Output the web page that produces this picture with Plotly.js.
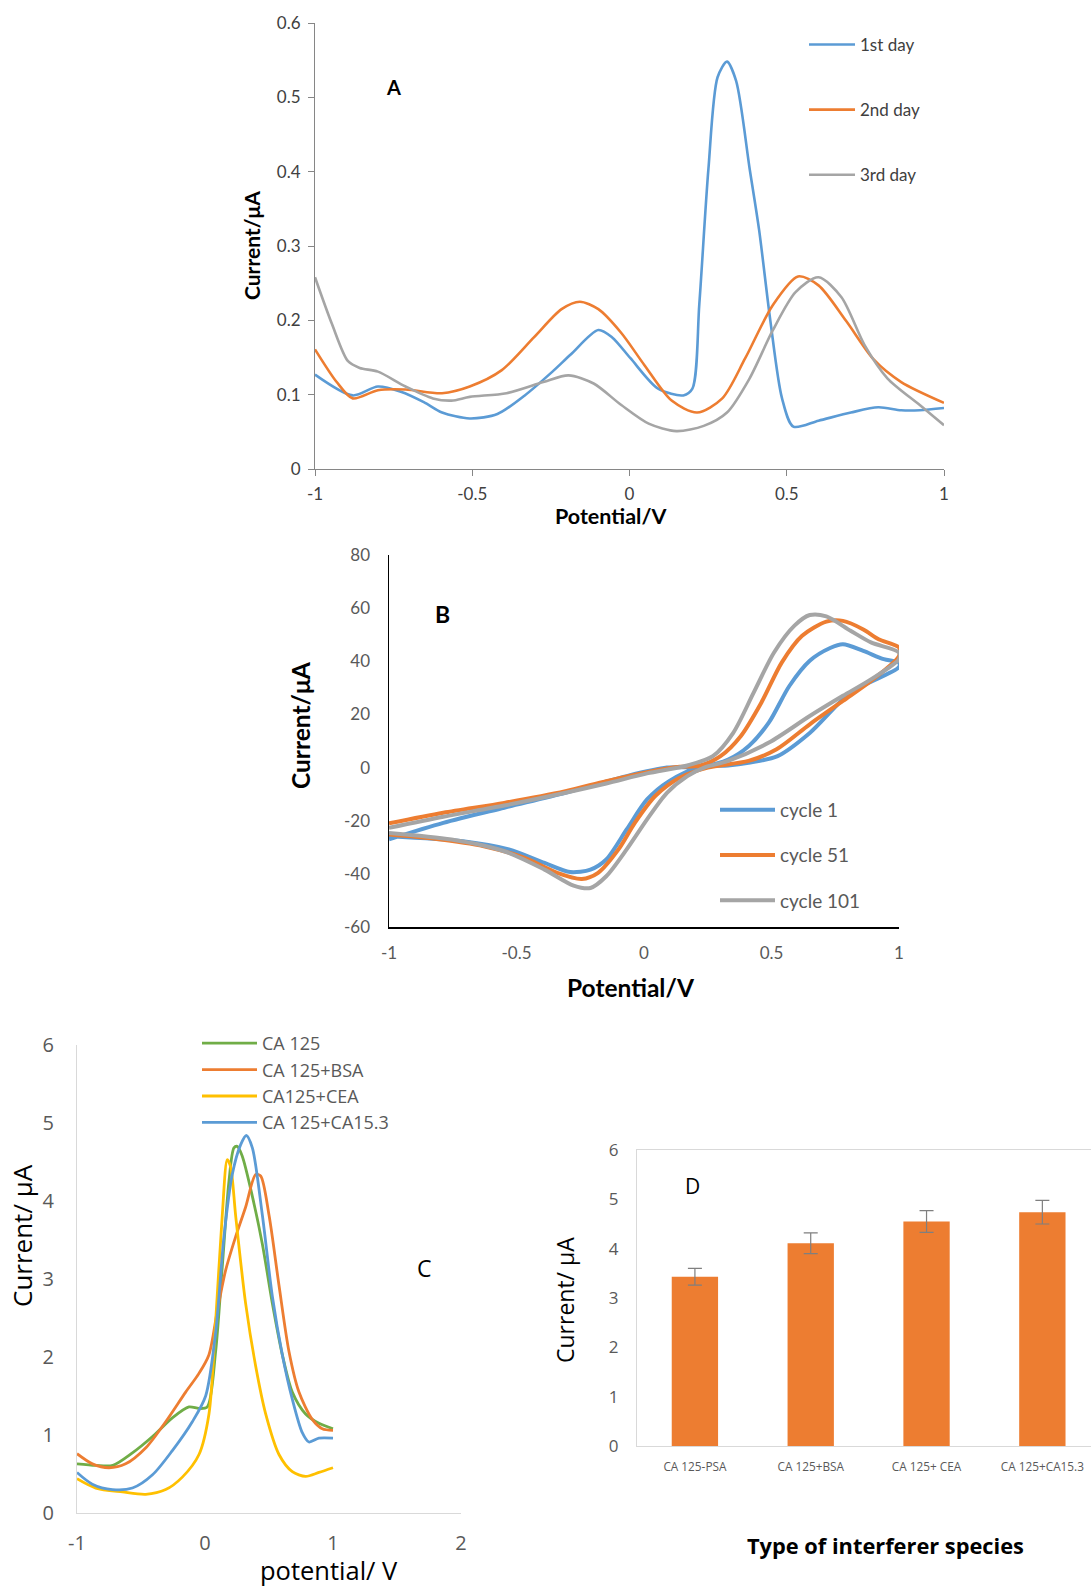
<!DOCTYPE html>
<html>
<head>
<meta charset="utf-8">
<script src="https://cdn.plot.ly/plotly-3.0.1.min.js"></script>
<style>
html,body{margin:0;padding:0;background:#fff;}
#chart{width:1091px;height:1589px;}
</style>
</head>
<body>
<div id="chart"></div>
<script>
// ---------- Panel A : DPV stability over days ----------
const seriesA = ["1st day", "2nd day", "3rd day"];
const potA1 = [-1,-0.88,-0.8,-0.727,-0.654,-0.596,-0.508,-0.42,-0.333,-0.245,-0.187,-0.099,-0.055,0.003,0.091,0.171,0.2,0.222,0.251,0.28,0.31,0.339,0.382,0.412,0.448,0.485,0.521,0.601,0.704,0.791,0.864,0.923,1.0];
const curA1 = [0.127,0.099,0.111,0.104,0.090,0.076,0.068,0.074,0.099,0.131,0.154,0.187,0.177,0.149,0.108,0.099,0.108,0.222,0.404,0.527,0.548,0.522,0.404,0.322,0.199,0.095,0.057,0.065,0.076,0.083,0.079,0.079,0.082];
const potA2 = [-1,-0.931,-0.88,-0.8,-0.712,-0.596,-0.508,-0.406,-0.304,-0.216,-0.158,-0.099,-0.026,0.047,0.134,0.215,0.295,0.368,0.455,0.536,0.601,0.689,0.777,0.864,1.0];
const curA2 = [0.161,0.117,0.095,0.106,0.107,0.102,0.111,0.133,0.177,0.215,0.225,0.215,0.183,0.140,0.092,0.076,0.095,0.149,0.220,0.259,0.247,0.199,0.147,0.117,0.089];
const potA3 = [-1,-0.946,-0.895,-0.858,-0.8,-0.712,-0.625,-0.566,-0.508,-0.391,-0.274,-0.194,-0.114,-0.026,0.061,0.149,0.236,0.31,0.382,0.455,0.528,0.601,0.674,0.747,0.82,0.923,1.0];
const curA3 = [0.258,0.195,0.145,0.136,0.131,0.111,0.095,0.092,0.097,0.102,0.117,0.126,0.115,0.086,0.061,0.051,0.058,0.076,0.122,0.186,0.238,0.258,0.231,0.167,0.122,0.086,0.059];
const xTickValsA = [-1,-0.5,0,0.5,1];
const xTickTextA = ["-1","-0.5","0","0.5","1"];
const yTickValsA = [0,0.1,0.2,0.3,0.4,0.5,0.6];
const yTickTextA = ["0","0.1","0.2","0.3","0.4","0.5","0.6"];

// ---------- Panel B : CV cycles (forward then reverse scan) ----------
const seriesB = ["cycle 1", "cycle 51", "cycle 101"];
const potB1 = [-1,-0.787,-0.548,-0.308,-0.068,0.09,0.22,0.33,0.41,0.49,0.57,0.65,0.73,0.78,0.86,0.94,1.0,
               1.0,0.81,0.65,0.524,0.41,0.33,0.22,0.1,0.012,-0.068,-0.148,-0.21,-0.29,-0.39,-0.53,-0.71,-1];
const curB1 = [-27,-20.8,-15.1,-9.5,-3.2,0,0.3,3,8,17,30.7,40.2,45,46.4,43.9,40.8,39.5,
               37.8,28.2,13,4.3,1.8,0.8,0.3,-5,-12,-23.3,-34.6,-38.4,-39.3,-35.9,-30.8,-27.7,-25.8];
const potB2 = [-1,-0.787,-0.548,-0.308,-0.148,0.012,0.14,0.22,0.3,0.38,0.46,0.54,0.62,0.715,0.78,0.86,0.92,1,
               1,0.89,0.78,0.65,0.52,0.41,0.25,0.14,0.044,-0.036,-0.1,-0.18,-0.244,-0.34,-0.468,-0.628,-0.82,-1];
const curB2 = [-21,-17,-13.3,-8.9,-5.1,-1.7,0.3,0.8,4.3,11.9,24.4,39.5,49.6,54.9,55.2,52,48.3,45.2,
               42,32.6,25.1,16.3,6.9,2.5,0,-3.8,-10.7,-20.8,-30.8,-39.6,-41.9,-39.6,-34,-29.6,-26.8,-25.2];
const potB3 = [-1,-0.787,-0.548,-0.308,-0.148,0.012,0.17,0.27,0.35,0.43,0.51,0.59,0.65,0.715,0.81,0.89,1,
               1,0.89,0.78,0.65,0.49,0.33,0.236,0.17,0.09,0.012,-0.068,-0.148,-0.21,-0.276,-0.39,-0.548,-0.755,-1];
const curB3 = [-22.7,-18.5,-14.3,-9.5,-6,-2.2,0.8,4.3,13.1,28.2,43.3,53.4,57.4,56.9,51.5,47.1,43.3,
               40.8,33.2,27,19.4,9.4,2.5,0,-3.2,-9.5,-19.5,-30.8,-40.9,-45.3,-44.4,-38.4,-31.5,-27.1,-24.6];
const xTickValsB = [-1,-0.5,0,0.5,1];
const xTickTextB = ["-1","-0.5","0","0.5","1"];
const yTickValsB = [-60,-40,-20,0,20,40,60,80];
const yTickTextB = ["-60","-40","-20","0","20","40","60","80"];

// ---------- Panel C : selectivity DPV ----------
const seriesC = ["CA 125", "CA 125+BSA", "CA125+CEA", "CA 125+CA15.3"];
const potC1 = [-1,-0.853,-0.72,-0.567,-0.41,-0.255,-0.125,-0.047,0.018,0.083,0.135,0.187,0.226,0.252,0.29,0.37,0.448,0.526,0.604,0.682,0.786,0.89,1.0];
const curC1 = [0.63,0.61,0.61,0.77,0.98,1.22,1.36,1.34,1.36,2.07,3.16,4.25,4.68,4.70,4.58,4.06,3.45,2.69,2.03,1.55,1.27,1.15,1.08];
const potC2 = [-1,-0.88,-0.75,-0.62,-0.46,-0.307,-0.151,-0.047,0.031,0.096,0.161,0.239,0.317,0.396,0.435,0.5,0.578,0.656,0.734,0.838,0.916,1.0];
const curC2 = [0.76,0.63,0.58,0.63,0.84,1.17,1.55,1.79,2.03,2.59,3.11,3.54,3.92,4.34,4.32,3.82,2.92,2.07,1.55,1.20,1.08,1.06];
const potC3 = [-1,-0.853,-0.645,-0.463,-0.307,-0.177,-0.047,0.031,0.083,0.135,0.174,0.2,0.239,0.317,0.396,0.474,0.578,0.682,0.786,0.89,1.0];
const curC3 = [0.44,0.32,0.27,0.24,0.30,0.46,0.75,1.27,2.45,3.82,4.53,4.44,3.82,2.69,1.88,1.27,0.75,0.53,0.47,0.52,0.58];
const potC4 = [-1,-0.88,-0.723,-0.567,-0.41,-0.255,-0.099,0.005,0.083,0.148,0.213,0.278,0.323,0.37,0.448,0.526,0.604,0.682,0.76,0.812,0.89,1.0];
const curC4 = [0.52,0.37,0.30,0.32,0.49,0.80,1.17,1.50,2.31,3.54,4.34,4.72,4.84,4.68,3.82,2.78,2.03,1.46,1.03,0.91,0.96,0.96];
const xTickValsC = [-1,0,1,2];
const xTickTextC = ["-1","0","1","2"];

// ---------- Panel D : bar chart ----------
const categoriesD = ["CA 125-PSA", "CA 125+BSA", "CA 125+ CEA", "CA 125+CA15.3"];
const categoryPosD = [0, 1, 2, 3];
const valuesD = [3.43, 4.11, 4.55, 4.74];
const errorsD = [0.17, 0.21, 0.22, 0.24];

// ---------- styling ----------
const BLUE = "#5B9BD5", ORANGE = "#ED7D31", GRAY = "#A5A5A5", YELLOW = "#FFC000", GREEN = "#70AD47";
const fontA = "Lato, 'Liberation Sans', sans-serif";
const fontC = "'Open Sans', 'Liberation Sans', sans-serif";

function line(x, y, name, color, w, xa, ya, leg, grp) {
  return {type: "scatter", mode: "lines", x: x, y: y, name: name, xaxis: xa, yaxis: ya,
          legend: leg, legendgroup: grp, line: {color: color, width: w, shape: "spline", smoothing: 0.8},
          hoverinfo: "skip"};
}

const traces = [
  line(potA1, curA1, seriesA[0], BLUE, 2.6, "x", "y", "legend", "a1"),
  line(potA2, curA2, seriesA[1], ORANGE, 2.6, "x", "y", "legend", "a2"),
  line(potA3, curA3, seriesA[2], GRAY, 2.6, "x", "y", "legend", "a3"),
  line(potB1, curB1, seriesB[0], BLUE, 4, "x2", "y2", "legend2", "b1"),
  line(potB2, curB2, seriesB[1], ORANGE, 4, "x2", "y2", "legend2", "b2"),
  line(potB3, curB3, seriesB[2], GRAY, 4, "x2", "y2", "legend2", "b3"),
  line(potC1, curC1, seriesC[0], GREEN, 2.8, "x3", "y3", "legend3", "c1"),
  line(potC2, curC2, seriesC[1], ORANGE, 2.8, "x3", "y3", "legend3", "c2"),
  line(potC3, curC3, seriesC[2], YELLOW, 2.8, "x3", "y3", "legend3", "c3"),
  line(potC4, curC4, seriesC[3], BLUE, 2.8, "x3", "y3", "legend3", "c4"),
  {type: "bar", x: categoryPosD, y: valuesD, xaxis: "x4", yaxis: "y4", width: 0.4,
   marker: {color: ORANGE}, showlegend: false, hoverinfo: "skip",
   error_y: {type: "data", array: errorsD, visible: true, color: "#7F7F7F", thickness: 1.2, width: 7}}
];

const W = 1091, H = 1589;
const fx = px => px / W;
const fy = py => 1 - py / H;

function label(text, px, py, size, family, angle) {
  return {text: text, x: fx(px), y: fy(py), xref: "paper", yref: "paper", showarrow: false,
          xanchor: "center", yanchor: "middle", textangle: angle || 0,
          font: {family: family, size: size, color: "#000"}};
}

const layout = {
  width: W, height: H,
  margin: {l: 0, r: 0, t: 0, b: 0, pad: 0},
  paper_bgcolor: "#ffffff", plot_bgcolor: "rgba(0,0,0,0)",
  showlegend: true,
  // Panel A axes
  xaxis: {domain: [fx(315), fx(944)], anchor: "y", range: [-1, 1], tickvals: xTickValsA, ticktext: xTickTextA,
          showline: true, linecolor: "#868686", linewidth: 1, ticks: "outside", ticklen: 6, tickcolor: "#868686",
          showgrid: false, zeroline: false, tickfont: {family: fontA, size: 17, color: "#404040"}, ticklabelstandoff: 4},
  yaxis: {domain: [fy(469), fy(23)], anchor: "x", range: [0, 0.6], tickvals: yTickValsA, ticktext: yTickTextA,
          showline: true, linecolor: "#868686", linewidth: 1, ticks: "outside", ticklen: 6, tickcolor: "#868686",
          showgrid: false, zeroline: false, tickfont: {family: fontA, size: 17, color: "#404040"}, ticklabelstandoff: 4},
  // Panel B axes
  xaxis2: {domain: [fx(389), fx(899)], anchor: "y2", range: [-1, 1], tickvals: xTickValsB, ticktext: xTickTextB,
           showline: true, linecolor: "#000000", linewidth: 1.5, ticks: "", showgrid: false, zeroline: false,
           tickfont: {family: fontA, size: 17, color: "#595959"}, ticklabelstandoff: 10},
  yaxis2: {domain: [fy(927), fy(555)], anchor: "x2", range: [-60, 80], tickvals: yTickValsB, ticktext: yTickTextB,
           showline: true, linecolor: "#000000", linewidth: 1.5, ticks: "", showgrid: false, zeroline: false,
           tickfont: {family: fontA, size: 17, color: "#595959"}, ticklabelstandoff: 14},
  // Panel C axes
  xaxis3: {domain: [fx(77), fx(461)], anchor: "y3", range: [-1, 2], tickvals: xTickValsC, ticktext: xTickTextC,
           showline: true, linecolor: "#D9D9D9", linewidth: 1, ticks: "", showgrid: false, zeroline: false,
           tickfont: {family: fontC, size: 20, color: "#595959"}, ticklabelstandoff: 12},
  yaxis3: {domain: [fy(1513), fy(1045)], anchor: "x3", range: [0, 6], dtick: 1,
           showline: true, linecolor: "#D9D9D9", linewidth: 1, ticks: "", showgrid: false, zeroline: false,
           tickfont: {family: fontC, size: 20, color: "#595959"}, ticklabelstandoff: 18},
  // Panel D axes
  xaxis4: {domain: [fx(637), 1], anchor: "y4", range: [-0.5, 3.42], tickvals: categoryPosD, ticktext: categoriesD,
           showline: true, mirror: true, linecolor: "#D9D9D9", linewidth: 1, ticks: "", showgrid: false, zeroline: false,
           tickfont: {family: fontC, size: 11.8, color: "#595959"}, ticklabelstandoff: 10},
  yaxis4: {domain: [fy(1446), fy(1150)], anchor: "x4", range: [0, 6], dtick: 1,
           showline: true, linecolor: "#D9D9D9", linewidth: 1, ticks: "", showgrid: false, zeroline: false,
           tickfont: {family: fontC, size: 17, color: "#595959"}, ticklabelstandoff: 14},
  legend: {x: fx(804), y: fy(27), xanchor: "left", yanchor: "top", bgcolor: "rgba(0,0,0,0)",
           font: {family: fontA, size: 17, color: "#404040"}, tracegroupgap: 40, itemwidth: 46},
  legend2: {x: fx(715), y: fy(791), xanchor: "left", yanchor: "top", bgcolor: "rgba(0,0,0,0)",
            font: {family: fontA, size: 19, color: "#595959"}, tracegroupgap: 17.5, itemwidth: 55},
  legend3: {x: fx(197), y: fy(1025), xanchor: "left", yanchor: "top", bgcolor: "rgba(0,0,0,0)",
            font: {family: fontC, size: 18, color: "#595959"}, tracegroupgap: 0, itemwidth: 55},
  annotations: [
    // panel letters
    label("<b>A</b>", 393, 87, 20, fontA),
    label("<b>B</b>", 442, 614, 23, fontA),
    label("C", 424, 1268, 23, fontC),
    label("D", 692, 1186, 21, fontC),
    // axis titles
    label("<b>Potential/V</b>", 612, 516, 21.5, fontA),
    label("<b>Current/μA</b>", 251, 246, 21, fontA, -90),
    label("<b>Potential/V</b>", 631, 988, 24.5, fontA),
    label("<b>Current/μA</b>", 300, 725, 24.5, fontA, -90),
    label("potential/ V", 329, 1570, 25.5, fontC),
    label("Current/ μA", 22, 1236, 26, fontC, -90),
    label("<b>Type of interferer species</b>", 885, 1545, 21.8, fontC),
    label("Current/ μA", 565, 1300, 23, fontC, -90)
  ]
};

Plotly.newPlot("chart", traces, layout, {staticPlot: true, displayModeBar: false});
</script>
</body>
</html>
